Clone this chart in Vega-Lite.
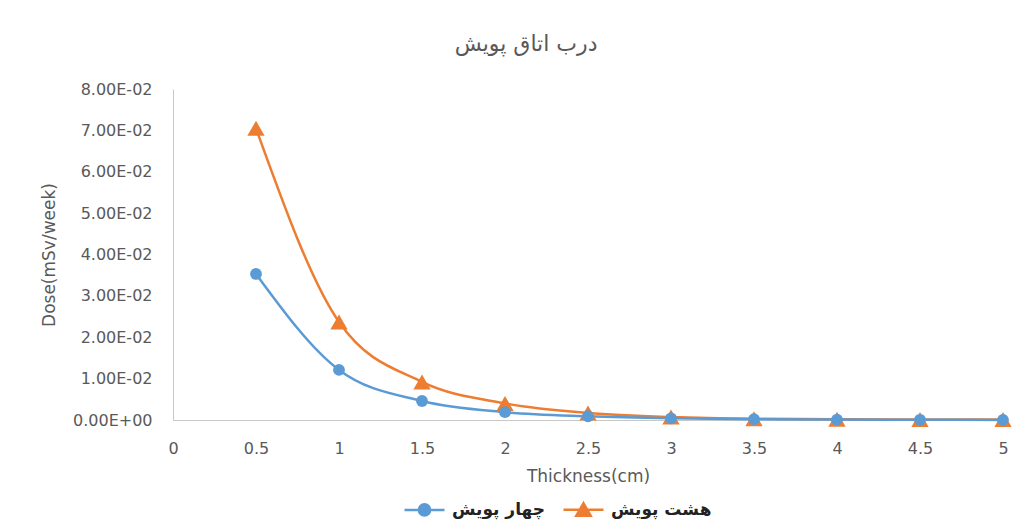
{
  "$schema": "https://vega.github.io/schema/vega-lite/v6.json",
  "autosize": {"type": "none"},
  "width": 830,
  "height": 331,
  "padding": {"left": 173, "top": 89, "right": 24, "bottom": 106},
  "background": "white",
  "title": {
    "text": "درب اتاق پویش",
    "font": "DejaVu Sans",
    "fontSize": 22,
    "fontWeight": "normal",
    "color": "#595959",
    "anchor": "middle",
    "frame": "bounds",
    "offset": 25
  },
  "data": {
    "values": [
      {"thickness": 0.5, "dose": 0.0705, "series": "هشت پویش"},
      {"thickness": 1.0, "dose": 0.0237, "series": "هشت پویش"},
      {"thickness": 1.5, "dose": 0.0092, "series": "هشت پویش"},
      {"thickness": 2.0, "dose": 0.0040, "series": "هشت پویش"},
      {"thickness": 2.5, "dose": 0.0017, "series": "هشت پویش"},
      {"thickness": 3.0, "dose": 0.0007, "series": "هشت پویش"},
      {"thickness": 3.5, "dose": 0.0003, "series": "هشت پویش"},
      {"thickness": 4.0, "dose": 0.0002, "series": "هشت پویش"},
      {"thickness": 4.5, "dose": 0.0001, "series": "هشت پویش"},
      {"thickness": 5.0, "dose": 0.0001, "series": "هشت پویش"},
      {"thickness": 0.5, "dose": 0.0353, "series": "چهار پویش"},
      {"thickness": 1.0, "dose": 0.0121, "series": "چهار پویش"},
      {"thickness": 1.5, "dose": 0.0046, "series": "چهار پویش"},
      {"thickness": 2.0, "dose": 0.0019, "series": "چهار پویش"},
      {"thickness": 2.5, "dose": 0.0009, "series": "چهار پویش"},
      {"thickness": 3.0, "dose": 0.0004, "series": "چهار پویش"},
      {"thickness": 3.5, "dose": 0.0002, "series": "چهار پویش"},
      {"thickness": 4.0, "dose": 0.0001, "series": "چهار پویش"},
      {"thickness": 4.5, "dose": 0.00005, "series": "چهار پویش"},
      {"thickness": 5.0, "dose": 0.00003, "series": "چهار پویش"}
    ]
  },
  "encoding": {
    "x": {
      "field": "thickness",
      "type": "quantitative",
      "scale": {"domain": [0, 5], "nice": false, "zero": true},
      "axis": {
        "title": "Thickness(cm)",
        "values": [0, 0.5, 1, 1.5, 2, 2.5, 3, 3.5, 4, 4.5, 5],
        "labelExpr": "format(datum.value, '~g')",
        "grid": false,
        "ticks": false,
        "domainColor": "#C8C8C8",
        "domainWidth": 1,
        "labelFont": "DejaVu Sans",
        "labelFontSize": 16,
        "labelColor": "#595959",
        "labelPadding": 20,
        "labelFlush": false,
        "titleFont": "DejaVu Sans",
        "titleFontSize": 17,
        "titleFontWeight": "normal",
        "titleColor": "#595959",
        "titlePadding": 12
      }
    },
    "y": {
      "field": "dose",
      "type": "quantitative",
      "scale": {"domain": [0, 0.08], "nice": false},
      "axis": {
        "title": "Dose(mSv/week)",
        "values": [0, 0.01, 0.02, 0.03, 0.04, 0.05, 0.06, 0.07, 0.08],
        "labelExpr": "datum.value === 0 ? '0.00E+00' : replace(upper(format(datum.value, '.2e')), regexp('E-(\\\\d)$'), 'E-0$1')",
        "grid": false,
        "ticks": false,
        "domainColor": "#C8C8C8",
        "domainWidth": 1,
        "labelFont": "DejaVu Sans",
        "labelFontSize": 16,
        "labelColor": "#595959",
        "labelPadding": 21,
        "labelFlush": false,
        "titleFont": "DejaVu Sans",
        "titleFontSize": 17,
        "titleFontWeight": "normal",
        "titleColor": "#595959",
        "titlePadding": 14
      }
    },
    "color": {
      "field": "series",
      "type": "nominal",
      "scale": {"domain": ["چهار پویش", "هشت پویش"], "range": ["#5B9BD5", "#ED7D31"]},
      "legend": {
        "title": null,
        "orient": "none",
        "direction": "horizontal",
        "legendX": 230,
        "legendY": 399,
        "symbolType": "M-1,0L1,0",
        "symbolSize": 1600,
        "symbolStrokeWidth": 2.5,
        "labelFont": "DejaVu Sans",
        "labelFontSize": 17,
        "labelFontWeight": "bold",
        "labelColor": "#222222",
        "labelOffset": 6,
        "columnPadding": 12,
        "encode": {
          "symbols": {
            "update": {
              "shape": {"signal": "indexof(datum.value, 'چهار') >= 0 ? 'M-1,0L1,0M-0.28,0A0.28,0.28,0,1,1,0.28,0A0.28,0.28,0,1,1,-0.28,0Z' : 'M-1,0L1,0M0,-0.32L0.36,0.3L-0.36,0.3Z'"},
              "stroke": {"signal": "indexof(datum.value, 'چهار') >= 0 ? '#5B9BD5' : '#ED7D31'"},
              "fill": {"signal": "indexof(datum.value, 'چهار') >= 0 ? '#5B9BD5' : '#ED7D31'"},
              "strokeWidth": {"value": 2.5},
              "opacity": {"value": 1}
            }
          }
        }
      }
    }
  },
  "layer": [
    {
      "mark": {"type": "line", "interpolate": "monotone", "strokeWidth": 2.5},
      "encoding": {
        "order": {"field": "series", "sort": "descending"}
      }
    },
    {
      "transform": [{"filter": "datum.series === 'هشت پویش'"}],
      "mark": {"type": "point", "filled": true, "opacity": 1, "shape": "triangle-up", "size": 300}
    },
    {
      "transform": [{"filter": "datum.series === 'چهار پویش'"}],
      "mark": {"type": "point", "filled": true, "opacity": 1, "shape": "circle", "size": 140}
    }
  ],
  "config": {"view": {"stroke": null}}
}
